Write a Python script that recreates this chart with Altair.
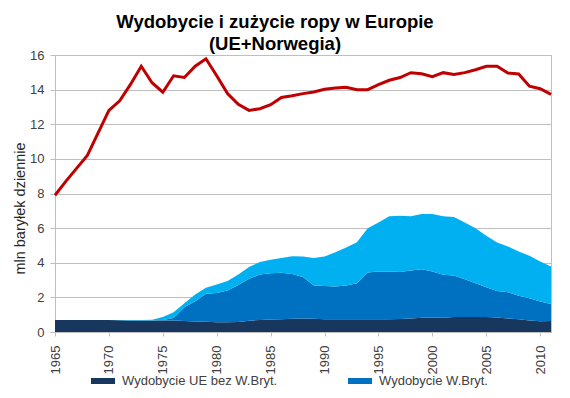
import altair as alt
import pandas as pd

years = list(range(1965, 2012))

consumption = [7.9, 8.7, 9.45, 10.2, 11.5, 12.8, 13.35, 14.3, 15.35, 14.4,
               13.85, 14.8, 14.7, 15.35, 15.78, 14.8, 13.77, 13.15, 12.8, 12.9,
               13.13, 13.55, 13.65, 13.77, 13.86, 14.02, 14.1, 14.14, 14.0, 14.0,
               14.29, 14.54, 14.7, 14.98, 14.92, 14.75, 14.98, 14.87, 14.98, 15.15,
               15.35, 15.35, 14.96, 14.9, 14.2, 14.05, 13.73]

eu_ex_uk = [0.70, 0.70, 0.70, 0.70, 0.70, 0.69, 0.68, 0.67, 0.67, 0.67,
            0.67, 0.66, 0.64, 0.61, 0.59, 0.57, 0.57, 0.58, 0.65, 0.70,
            0.72, 0.74, 0.76, 0.78, 0.76, 0.74, 0.73, 0.73, 0.73, 0.74,
            0.74, 0.74, 0.75, 0.78, 0.82, 0.84, 0.82, 0.86, 0.86, 0.86,
            0.86, 0.84, 0.78, 0.74, 0.66, 0.62, 0.63]

uk = [0, 0, 0, 0, 0, 0, 0, 0, 0, 0,
      0.02, 0.15, 0.79, 1.16, 1.62, 1.68, 1.83, 2.14, 2.42, 2.62,
      2.68, 2.68, 2.59, 2.39, 1.92, 1.92, 1.90, 1.95, 2.09, 2.70,
      2.75, 2.75, 2.71, 2.77, 2.81, 2.65, 2.48, 2.40, 2.19, 1.96,
      1.73, 1.53, 1.52, 1.36, 1.29, 1.14, 0.99]

norway = [0, 0, 0, 0, 0, 0, 0.01, 0.03, 0.03, 0.04,
          0.17, 0.33, 0.23, 0.40, 0.35, 0.50, 0.54, 0.60, 0.68, 0.72,
          0.77, 0.85, 1.02, 1.19, 1.59, 1.70, 1.97, 2.20, 2.37, 2.56,
          2.84, 3.19, 3.26, 3.13, 3.18, 3.32, 3.38, 3.38, 3.28, 3.18,
          2.97, 2.80, 2.64, 2.55, 2.45, 2.31, 2.16]

series_names = ["Wydobycie UE bez W.Bryt.", "Wydobycie W.Bryt.", "Wydobycie Norwegii"]
series_colors = ["#17375E", "#0070C0", "#00B0F0"]
x_ticks = list(range(1965, 2011, 5))
y_ticks = list(range(0, 17, 2))

rows = []
for i, y in enumerate(years):
    for k, (name, vals) in enumerate(zip(series_names, [eu_ex_uk, uk, norway])):
        rows.append({"rok": y, "seria": name, "kolejnosc": k, "wartosc": vals[i]})
prod_df = pd.DataFrame(rows)
cons_df = pd.DataFrame({"rok": years, "wartosc": consumption})

x_axis = alt.Axis(values=x_ticks, format="d", labelAngle=270, grid=False,
                  tickSize=4, labelPadding=9, title=None, labelOverlap=False)
x_scale = alt.Scale(domain=[1965, 2011], nice=False, zero=False)
y_axis = alt.Axis(values=y_ticks, title="mln baryłek dziennie", tickSize=5,
                  labelPadding=6, titleX=-31, titleY=153, labelOverlap=False,
                  titleBaseline="alphabetic", titleAngle=270)
y_scale = alt.Scale(domain=[0, 16], nice=False)

areas = alt.Chart(prod_df).mark_area(opacity=1, strokeWidth=0).encode(
    x=alt.X("rok:Q", scale=x_scale, axis=x_axis),
    y=alt.Y("wartosc:Q", stack="zero", scale=y_scale, axis=y_axis),
    color=alt.Color("seria:N",
                    scale=alt.Scale(domain=series_names, range=series_colors),
                    legend=alt.Legend(values=series_names[:2], title=None,
                                      orient="none", legendX=36, legendY=314,
                                      direction="horizontal",
                                      symbolType="M-1,-0.25H1V0.25H-1Z",
                                      symbolSize=576, symbolStrokeWidth=0,
                                      symbolOpacity=1, labelOffset=7,
                                      columnPadding=70, padding=0,
                                      labelFontSize=13, labelColor="#404040",
                                      labelFont="Liberation Sans")),
    order=alt.Order("kolejnosc:Q", sort="ascending"),
)

line = alt.Chart(cons_df).mark_line(color="#C00000", strokeWidth=3).encode(
    x=alt.X("rok:Q", scale=x_scale, axis=x_axis),
    y=alt.Y("wartosc:Q", scale=y_scale, axis=y_axis),
)

chart = alt.layer(areas, line).properties(
    width=496,
    height=277,
    autosize=alt.AutoSizeParams(type="none"),
    padding={"left": 47, "top": 47, "right": 11, "bottom": 58},
    title=alt.TitleParams(
        text=["Wydobycie i zużycie ropy w Europie", "(UE+Norwegia)"],
        fontSize=18.5, font="Liberation Sans", fontWeight="bold", color="#000000",
        anchor="middle", dx=-28, offset=-4, lineHeight=22,
    ),
).configure_axis(
    labelFont="Liberation Sans", labelFontSize=13, labelColor="#404040",
    titleFont="Liberation Sans", titleFontSize=14.5, titleFontWeight="normal",
    titleColor="#262626",
    gridColor="#BFBFBF", domainColor="#BFBFBF", tickColor="#BFBFBF",
).configure_view(
    stroke="#BFBFBF", strokeWidth=1,
)

chart.save("out.html", embed_options={"renderer": "svg", "actions": False})
